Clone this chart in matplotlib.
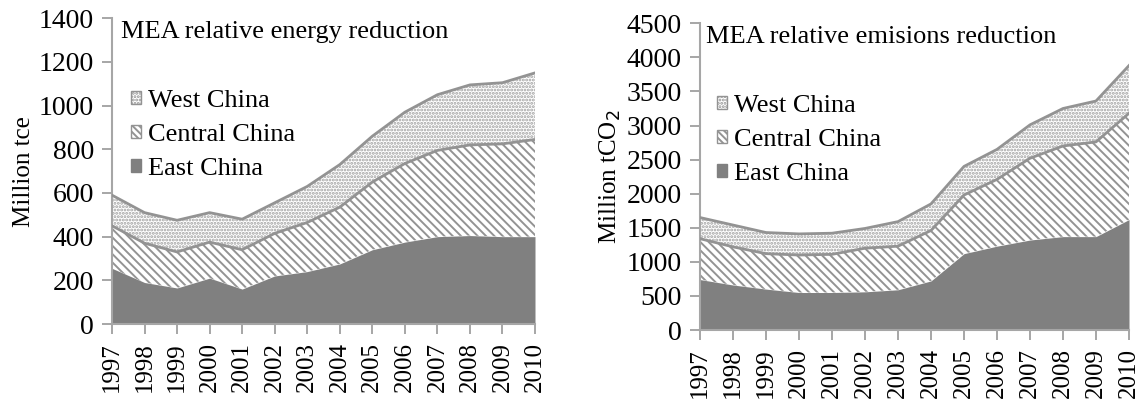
import matplotlib
matplotlib.use("Agg")
import matplotlib.pyplot as plt
from matplotlib.patches import Patch
import numpy as np

plt.rcParams['font.family'] = ['Liberation Serif', 'DejaVu Serif']
plt.rcParams['hatch.linewidth'] = 1.4

years = [1997, 1998, 1999, 2000, 2001, 2002, 2003, 2004, 2005, 2006, 2007, 2008, 2009, 2010]
regions = ['East China', 'Central China', 'West China']

# Energy reduction by region (Million tce)
energy_east = [255, 190, 165, 210, 160, 220, 240, 275, 340, 375, 400, 405, 400, 400]
energy_central = [195, 180, 165, 165, 180, 195, 225, 260, 310, 360, 395, 415, 425, 445]
energy_west = [140, 140, 145, 135, 140, 140, 165, 195, 210, 235, 255, 275, 280, 305]

# Emissions reduction by region (Million tCO2)
emis_east = [740, 660, 600, 550, 550, 560, 590, 720, 1120, 1230, 1320, 1370, 1370, 1620]
emis_central = [600, 560, 520, 550, 560, 640, 640, 740, 860, 980, 1200, 1330, 1390, 1560]
emis_west = [310, 320, 310, 310, 310, 290, 360, 390, 420, 440, 490, 550, 600, 700]

energy_ticks = [0, 200, 400, 600, 800, 1000, 1200, 1400]
emis_ticks = [0, 500, 1000, 1500, 2000, 2500, 3000, 3500, 4000, 4500]

GRAY_FILL = '#808080'
LINE = '#939393'
SPINE = '#a6a6a6'
DIAG = '\\' * 4
DOTS = '.....'

fig = plt.figure(figsize=(11.45, 4.01), dpi=100)
ax1 = fig.add_axes([112 / 1145, 77 / 401, 423 / 1145, 305.7 / 401])
ax2 = fig.add_axes([700 / 1145, 71 / 401, 429 / 1145, 306.7 / 401])


def draw(ax, east, central, west, ticks, title, ylabel, title_x, legend_anchor):
    x = np.array(years)
    e = np.array(east, dtype=float)
    c = e + np.array(central, dtype=float)
    w = c + np.array(west, dtype=float)
    ax.fill_between(x, 0, e, facecolor=GRAY_FILL, edgecolor=GRAY_FILL,
                    linewidth=0.0, zorder=2)
    ax.fill_between(x, e, c, facecolor='white', edgecolor=LINE,
                    hatch=DIAG, linewidth=0.0, zorder=1)
    ax.fill_between(x, c, w, facecolor='white', edgecolor='#a0a0a0',
                    hatch=DOTS, linewidth=0.0, zorder=1)
    ax.plot(x, c, color=LINE, lw=2.0, zorder=3)
    ax.plot(x, w, color=LINE, lw=2.0, zorder=3)

    ax.set_xlim(years[0], years[-1])
    ax.set_ylim(ticks[0], ticks[-1])
    ax.set_xticks(years)
    ax.set_xticklabels([str(y) for y in years], rotation=90, fontsize=18)
    ax.set_yticks(ticks)
    ax.set_yticklabels([str(t) for t in ticks], fontsize=20)
    ax.tick_params(axis='both', direction='out', length=7, width=1.4,
                   color=SPINE)
    ax.tick_params(axis='y', pad=6)
    ax.tick_params(axis='x', pad=6)
    for s in ['top', 'right']:
        ax.spines[s].set_visible(False)
    for s in ['left', 'bottom']:
        ax.spines[s].set_color(SPINE)
        ax.spines[s].set_linewidth(1.5)
    ax.set_ylabel(ylabel, fontsize=18, labelpad=3)
    ax.text(title_x, 0.99, title, transform=ax.transAxes, ha='left', va='top',
            fontsize=19)

    handles = [
        Patch(facecolor='white', edgecolor=LINE, hatch='.....', linewidth=1.0),
        Patch(facecolor='white', edgecolor=LINE, hatch='\\' * 5, linewidth=1.0),
        Patch(facecolor=GRAY_FILL, edgecolor=GRAY_FILL, linewidth=1.0),
    ]
    labels = [regions[2], regions[1], regions[0]]
    ax.legend(handles, labels, loc='upper left', bbox_to_anchor=legend_anchor,
              frameon=False, fontsize=19, handlelength=0.38, handleheight=0.38,
              handletextpad=0.25, labelspacing=0.45, borderaxespad=0.0,
              borderpad=0.0)


draw(ax1, energy_east, energy_central, energy_west, energy_ticks,
     'MEA relative energy reduction', 'Million tce', 0.022, (0.045, 0.765))
draw(ax2, emis_east, emis_central, emis_west, emis_ticks,
     'MEA relative emisions reduction', 'Million tCO$_2$', 0.015, (0.04, 0.765))

fig.savefig('out.png', dpi=100)
